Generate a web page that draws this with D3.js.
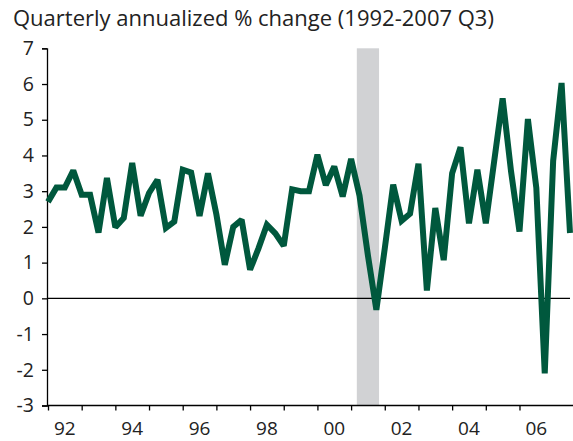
<!DOCTYPE html>
<html><head><meta charset="utf-8">
<script src="https://cdn.jsdelivr.net/npm/d3@7"></script>
<style>body{margin:0;background:#fff;} svg{display:block;}</style>
</head><body>
<svg id="c" width="573" height="441"></svg>
<script>
const title = "Quarterly annualized % change (1992-2007 Q3)";
const startYear = 1992;
const values = [2.7,3.1,3.1,3.58,2.9,2.9,1.84,3.37,1.99,2.25,3.79,2.31,2.95,3.32,1.97,2.15,
  3.6,3.52,2.31,3.5,2.35,0.94,2.0,2.2,0.8,1.4,2.06,1.82,1.47,3.05,3.0,3.0,
  4.02,3.17,3.69,2.85,3.9,2.88,1.2,-0.32,1.4,3.18,2.17,2.37,3.77,0.22,2.53,1.07,
  3.5,4.23,2.1,3.6,2.1,3.85,5.6,3.55,1.87,5.02,3.09,-2.1,3.85,6.03,1.83];
const yTicks = [-3,-2,-1,0,1,2,3,4,5,6,7];
const xTickYears = d3.range(1992, 2007);
const xLabelYears = [1992,1994,1996,1998,2000,2002,2004,2006];
const recession = [2001.17, 2001.83];

const svg = d3.select("#c");
const font = "'Open Sans', sans-serif";
const x = d3.scaleLinear().domain([1992, 2007.5]).range([48, 570]);
const y = d3.scaleLinear().domain([-3, 7]).range([405.5, 48.3]);

svg.append("text").attr("x", 13).attr("y", 26).attr("font-family", font)
  .attr("font-size", 22).attr("fill", "#222").text(title);

svg.append("rect").attr("x", x(recession[0])).attr("y", y(7))
  .attr("width", x(recession[1]) - x(recession[0])).attr("height", y(-3) - y(7))
  .attr("fill", "#d1d2d4");

// zero line
svg.append("line").attr("x1", x(1992)).attr("x2", 570).attr("y1", y(0)).attr("y2", y(0))
  .attr("stroke", "#000").attr("stroke-width", 1.3);

// y axis
const ya = svg.append("g").attr("transform", `translate(${x(1992)-1},0)`)
  .call(d3.axisLeft(y).tickValues(yTicks).tickSize(5).tickPadding(8).tickFormat(d => String(d)));
ya.select(".domain").attr("stroke", "#000").attr("stroke-width", 1.3);
ya.selectAll(".tick line").attr("stroke", "#000").attr("stroke-width", 1.3);
ya.selectAll("text").attr("font-family", font).attr("font-size", 19.5).attr("fill", "#222");

// x axis
const xa = svg.append("g").attr("transform", `translate(0,${y(-3)})`)
  .call(d3.axisBottom(x).tickValues(xTickYears).tickSize(5).tickFormat(""));
xa.select(".domain").attr("d", `M${x(1992)-1},0H573`).attr("stroke", "#000").attr("stroke-width", 1.3);
xa.selectAll(".tick line").attr("stroke", "#000").attr("stroke-width", 1.3);
svg.append("g").selectAll("text").data(xLabelYears).join("text")
  .attr("x", d => x(d + 0.5)).attr("y", 435).attr("text-anchor", "middle")
  .attr("font-family", font).attr("font-size", 19).attr("fill", "#222")
  .text(d => String(d % 100).padStart(2, "0"));

const line = d3.line().x((d, i) => x(startYear + i / 4)).y(d => y(d));
svg.append("path").datum(values).attr("d", line).attr("fill", "none")
  .attr("stroke", "#00583d").attr("stroke-width", 6).attr("stroke-linejoin", "miter")
  .attr("stroke-miterlimit", 2);
</script>
</body></html>
